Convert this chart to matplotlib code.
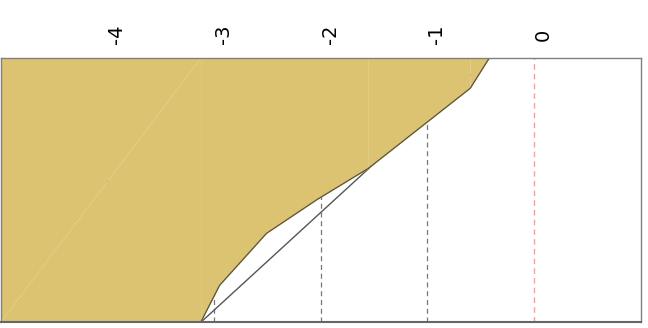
import numpy as np
import matplotlib
matplotlib.use('Agg')
import matplotlib.pyplot as plt

# curve (x = score, y = cumulative share)
curve_x = [-3.126, -2.949, -2.509, -2.031, -1.554, -0.599, -0.421]
curve_y = [0.0, 0.140, 0.337, 0.466, 0.583, 0.886, 1.0]
tick_vals = [-4, -3, -2, -1, 0]
tick_labels = ['-4', '-3', '-2', '-1', '0']
ref_x = 0

fill_color = '#dcc372'
edge_color = '#5e5530'
x_left = -5

plt.rcParams['axes.unicode_minus'] = False

fig = plt.figure(figsize=(6.48, 3.28), dpi=100)
ax = fig.add_axes([0.001, 0.0168, 0.988, 0.806])
ax.set_xlim(x_left, 1)
ax.set_ylim(0, 1)

# grid lines under the fill
for t in tick_vals[:-1]:
    ax.axvline(t, color='#777777', lw=0.9, ls=(0, (4, 3)), zorder=1)
ax.axvline(ref_x, color='#ff9c9c', lw=1.0, ls=(0, (4, 3)), zorder=1)

# straight reference line from first to last point
ax.plot([curve_x[0], curve_x[-1]], [curve_y[0], curve_y[-1]],
        color='#555555', lw=1.0, zorder=2)

# filled area left of / above the curve, drawn piece by piece
# left block as two triangles
ax.fill([x_left, curve_x[0], curve_x[0]], [0, 0, 1], color=fill_color, lw=0, zorder=3)
ax.fill([x_left, x_left, curve_x[0]], [0, 1, 1], color=fill_color, lw=0, zorder=3)
for i in range(len(curve_x) - 1):
    ax.fill_between(curve_x[i:i + 2], curve_y[i:i + 2], 1,
                    color=fill_color, lw=0, zorder=3)
ax.plot(curve_x, curve_y, color=edge_color, lw=0.9, zorder=4)

ax.set_xticks(tick_vals)
ax.set_xticklabels(tick_labels, rotation=90, fontsize=14, ha='left', va='center')
ax.xaxis.tick_top()
ax.tick_params(axis='x', length=0, pad=17)
ax.set_yticks([])

for side in ['left', 'top', 'right']:
    ax.spines[side].set_color('#808080')
    ax.spines[side].set_linewidth(1.0)
    ax.spines[side].set_zorder(5)
ax.spines['bottom'].set_color('#666666')
ax.spines['bottom'].set_linewidth(1.5)
ax.spines['bottom'].set_zorder(5)

fig.savefig('out.png', dpi=100)
